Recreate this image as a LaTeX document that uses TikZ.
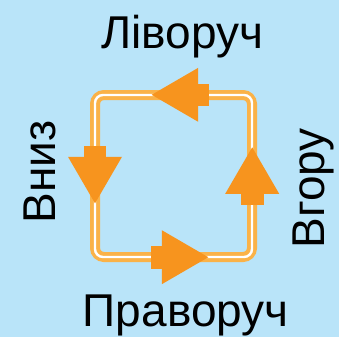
\documentclass[tikz,border=0pt]{standalone}
\usepackage{fontspec}
\setmainfont{Liberation Sans}
\definecolor{bgblue}{RGB}{185,228,249}
\definecolor{arroworange}{RGB}{247,148,30}
\definecolor{lineorange}{RGB}{250,178,72}
\tikzset{
  label/.style={font=\fontsize{46}{55}\selectfont, inner sep=0pt, anchor=base, text=black},
  bigarrow/.pic={
    \fill[arroworange] (0,0) -- (46.5,-27) -- (46.5,27) -- cycle;
    \fill[arroworange] (46,-11.3) rectangle (57.5,11.3);
  }
}
\begin{document}
\begin{tikzpicture}[x=1pt,y=-1pt]
  \useasboundingbox (0,0) rectangle (339,337);
  \fill[bgblue] (0,0) rectangle (339,337);
  % loop
  \draw[lineorange, line width=10pt, rounded corners=9pt] (95,95) rectangle (252,257);
  \draw[white, line width=2.4pt, rounded corners=8pt] (95,95) rectangle (252,257);
  % arrows
  \pic[rotate=0]   (aleft)  at (151.7,94.8) {bigarrow};
  \pic[rotate=90]  (adown)  at (95,203.3)   {bigarrow};
  \pic[rotate=180] (aright) at (208.3,257.2) {bigarrow};
  \pic[rotate=-90] (aup)    at (252.2,147.3) {bigarrow};
  % labels
  \node[label] (tleft)  at (182.2,48.3) {Ліворуч};
  \node[label] (tright) at (185.8,326.7) {Праворуч};
  \node[label, rotate=90] (tdown) at (55,172.2) {Вниз};
  \node[label, rotate=90] (tup)   at (324,188.3) {Вгору};
\end{tikzpicture}
\end{document}
